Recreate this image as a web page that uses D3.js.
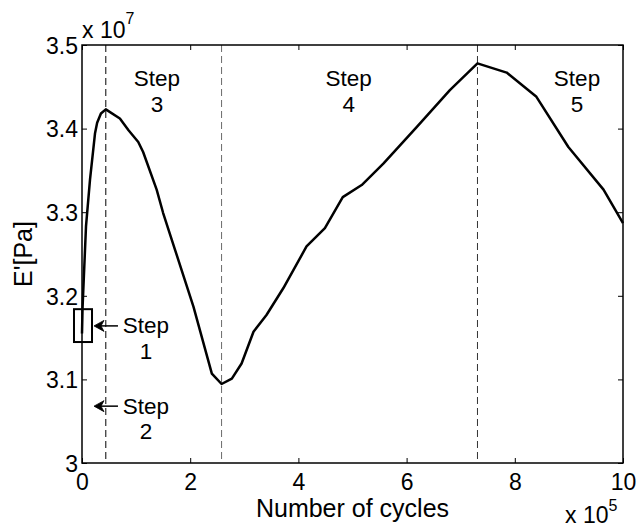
<!DOCTYPE html>
<html>
<head>
<meta charset="utf-8">
<script src="https://cdn.jsdelivr.net/npm/d3@7"></script>
<style>
  html, body { margin: 0; padding: 0; background: #fff; }
  text { font-family: "Liberation Sans", Arial, Helvetica, sans-serif; fill: #000; }
</style>
</head>
<body>
<svg id="chart" width="639" height="529"></svg>
<script>
// ---- data ----
const cycles = [0, 1000, 2400, 7400, 14800, 24000, 28000, 35000, 44000, 70000, 86000, 104000, 113000,
  138000, 150000, 166000, 172000, 206000, 240000, 258000, 277000, 295000, 317000, 341000, 372000,
  415000, 449000, 482000, 517000, 557000, 619000, 680000, 731000, 785000, 840000, 899000, 964000, 1000000];
const modulus = [3.155e7, 3.185e7, 3.207e7, 3.283e7, 3.339e7, 3.394e7, 3.407e7, 3.418e7, 3.423e7, 3.412e7,
  3.398e7, 3.384e7, 3.372e7, 3.327e7, 3.299e7, 3.267e7, 3.255e7, 3.187e7, 3.107e7, 3.0945e7, 3.101e7,
  3.119e7, 3.157e7, 3.177e7, 3.209e7, 3.259e7, 3.281e7, 3.318e7, 3.3325e7, 3.358e7, 3.402e7, 3.446e7,
  3.478e7, 3.467e7, 3.438e7, 3.378e7, 3.327e7, 3.287e7];
const stepBoundaries = [44000, 258000, 731000];
const xTicks = [0, 2e5, 4e5, 6e5, 8e5, 10e5];
const yTicks = [3.0e7, 3.1e7, 3.2e7, 3.3e7, 3.4e7, 3.5e7];
const stepLabels = [
  { name: "Step", num: "3", x: 1.385e5, y: 3.45e7 },
  { name: "Step", num: "4", x: 4.93e5, y: 3.45e7 },
  { name: "Step", num: "5", x: 9.15e5, y: 3.45e7 }
];
const arrowNotes = [
  { name: "Step", num: "1", tail: 0.665e5, head: 0.222e5, y: 3.164e7 },
  { name: "Step", num: "2", tail: 0.665e5, head: 0.222e5, y: 3.068e7 }
];
const boxRegion = { x0: -0.148e5, x1: 0.185e5, y0: 3.1447e7, y1: 3.184e7 };

// ---- layout ----
const W = 639, H = 529;
const m = { left: 82, right: 16, top: 45, bottom: 66 };
const svg = d3.select("#chart");
const x = d3.scaleLinear().domain([0, 1e6]).range([m.left, W - m.right]);
const y = d3.scaleLinear().domain([3.0e7, 3.5e7]).range([H - m.bottom, m.top]);
const pw = x.range()[1] - x.range()[0];
const ph = y.range()[0] - y.range()[1];
const FONT = "Liberation Sans, Arial, sans-serif";

// axes box with inner ticks
const gx = svg.append("g").attr("transform", `translate(0,${y.range()[0]})`)
  .call(d3.axisBottom(x).tickValues(xTicks).tickSizeInner(-5).tickSizeOuter(0).tickFormat(d => d / 1e5));
const gxt = svg.append("g").attr("transform", `translate(0,${y.range()[1]})`)
  .call(d3.axisTop(x).tickValues(xTicks).tickSizeInner(-5).tickSizeOuter(0).tickFormat(""));
const gy = svg.append("g").attr("transform", `translate(${x.range()[0]},0)`)
  .call(d3.axisLeft(y).tickValues(yTicks).tickSizeInner(-5).tickSizeOuter(0).tickFormat(d => d3.format(".1f")(d / 1e7).replace(/\.0$/, "")));
const gyr = svg.append("g").attr("transform", `translate(${x.range()[1]},0)`)
  .call(d3.axisRight(y).tickValues(yTicks).tickSizeInner(-5).tickSizeOuter(0).tickFormat(""));
[gx, gxt, gy, gyr].forEach(g => {
  g.select(".domain").remove();
  g.selectAll(".tick line").attr("stroke", "#000").attr("stroke-width", 1);
});
gx.selectAll(".tick text").attr("font-size", 23).attr("dy", null).attr("y", 27)
  .attr("font-family", FONT);
gy.selectAll(".tick text").attr("font-size", 23).attr("x", -4).attr("dy", "0.36em")
  .attr("font-family", FONT);

// step boundary dashed lines
const dashColors = ["#000", "#6a6a6a", "#333"];
svg.append("g").selectAll("line").data(stepBoundaries).join("line")
  .attr("x1", d => x(d)).attr("x2", d => x(d))
  .attr("y1", y.range()[1]).attr("y2", y.range()[0])
  .attr("stroke", (d, i) => dashColors[i]).attr("stroke-width", 1)
  .attr("stroke-dasharray", "7,4");

// curve
const pts = cycles.map((c, i) => [c, modulus[i]]);
svg.append("path").datum(pts)
  .attr("fill", "none").attr("stroke", "#000").attr("stroke-width", 2.5)
  .attr("stroke-linejoin", "round")
  .attr("d", d3.line().x(d => x(d[0])).y(d => y(d[1])));

// box frame
svg.append("rect").attr("x", x.range()[0]).attr("y", y.range()[1])
  .attr("width", pw).attr("height", ph)
  .attr("fill", "none").attr("stroke", "#000").attr("stroke-width", 1.5);

// Step 1 rectangle
svg.append("rect")
  .attr("x", x(boxRegion.x0)).attr("y", y(boxRegion.y1))
  .attr("width", x(boxRegion.x1) - x(boxRegion.x0))
  .attr("height", y(boxRegion.y0) - y(boxRegion.y1))
  .attr("fill", "none").attr("stroke", "#000").attr("stroke-width", 2);

// step labels
const lbl = svg.append("g").attr("font-size", 22.5).attr("text-anchor", "middle");
stepLabels.forEach(s => {
  lbl.append("text").attr("x", x(s.x)).attr("y", 86).text(s.name);
  lbl.append("text").attr("x", x(s.x)).attr("y", 112).text(s.num);
});

// arrows with labels
arrowNotes.forEach(a => {
  const yy = y(a.y), xh = x(a.head), xt = x(a.tail);
  svg.append("line").attr("x1", xt).attr("x2", xh + 5).attr("y1", yy).attr("y2", yy)
    .attr("stroke", "#000").attr("stroke-width", 1.5);
  svg.append("path")
    .attr("d", `M${xh},${yy} L${xh + 10},${yy - 5.5} L${xh + 7},${yy} L${xh + 10},${yy + 5.5} Z`)
    .attr("fill", "#000").attr("stroke", "#000").attr("stroke-width", 0.8).attr("stroke-linejoin", "miter");
  const tx = xt + 28;
  svg.append("text").attr("x", tx).attr("y", yy + 7.5).attr("font-size", 22.5).attr("text-anchor", "middle").text(a.name);
  svg.append("text").attr("x", tx).attr("y", yy + 33).attr("font-size", 22.5).attr("text-anchor", "middle").text(a.num);
});

// exponent labels
const e7 = svg.append("text").attr("x", 82).attr("y", 38).attr("font-size", 23);
e7.append("tspan").text("x 10");
e7.append("tspan").attr("dy", -14).attr("font-size", 16).text("7");
const e5 = svg.append("text").attr("x", 565).attr("y", 523).attr("font-size", 23);
e5.append("tspan").text("x 10");
e5.append("tspan").attr("dy", -12).attr("font-size", 16).text("5");

// axis titles
svg.append("text").attr("x", (x.range()[0] + x.range()[1]) / 2).attr("y", 517)
  .attr("text-anchor", "middle").attr("font-size", 25).text("Number of cycles");
svg.append("text").attr("transform", `translate(32,${(y.range()[0] + y.range()[1]) / 2}) rotate(-90)`)
  .attr("text-anchor", "middle").attr("font-size", 25).text("E'[Pa]");
</script>
</body>
</html>
